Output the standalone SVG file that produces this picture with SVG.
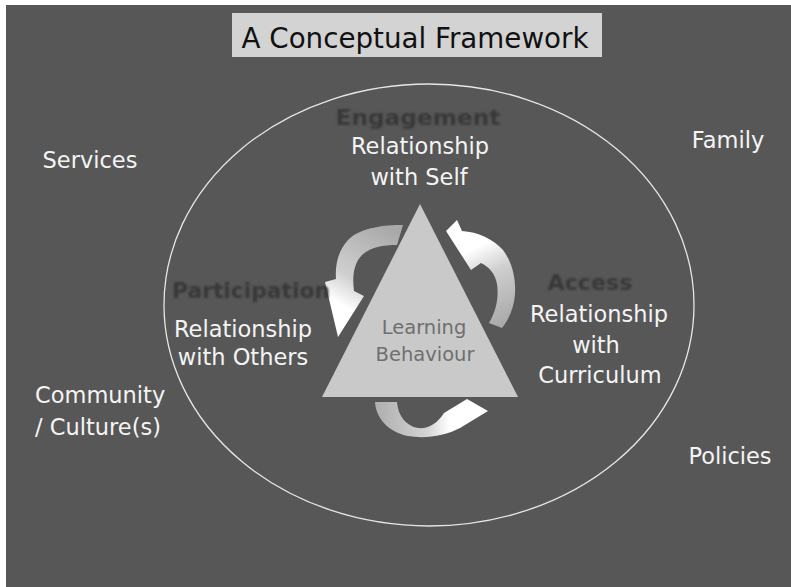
<svg xmlns="http://www.w3.org/2000/svg" width="791" height="587" viewBox="0 0 791 587">
  <style>
    .lbl { font-family: "DejaVu Sans", "Liberation Sans", sans-serif; font-size: 22.5px; fill: #f4f4f4; }
    .head { font-family: "DejaVu Sans", "Liberation Sans", sans-serif; font-size: 22px; font-weight: bold; fill: #383838; filter: url(#soft); }
    .core { font-family: "DejaVu Sans", "Liberation Sans", sans-serif; font-size: 19.5px; fill: #6f6f6f; }
    .title { font-family: "DejaVu Sans", "Liberation Sans", sans-serif; font-size: 29px; fill: #111; }
  </style>
  <defs>
    <filter id="soft" x="-10%" y="-30%" width="120%" height="160%">
      <feGaussianBlur stdDeviation="0.9"/>
    </filter>
    <linearGradient id="gLeft" gradientUnits="userSpaceOnUse" x1="395" y1="232" x2="340" y2="330">
      <stop offset="0" stop-color="#a9a9a9"/>
      <stop offset="0.55" stop-color="#d0d0d0"/>
      <stop offset="0.8" stop-color="#ffffff"/>
    </linearGradient>
    <linearGradient id="gRight" gradientUnits="userSpaceOnUse" x1="500" y1="326" x2="455" y2="232">
      <stop offset="0" stop-color="#a9a9a9"/>
      <stop offset="0.5" stop-color="#cfcfcf"/>
      <stop offset="0.78" stop-color="#ffffff"/>
    </linearGradient>
    <linearGradient id="gBottom" gradientUnits="userSpaceOnUse" x1="378" y1="410" x2="488" y2="410">
      <stop offset="0" stop-color="#b0b0b0"/>
      <stop offset="0.45" stop-color="#d4d4d4"/>
      <stop offset="0.65" stop-color="#ffffff"/>
    </linearGradient>
  </defs>

  <!-- page and slide background -->
  <rect x="0" y="0" width="791" height="587" fill="#ffffff"/>
  <rect x="6" y="5" width="785" height="582" fill="#575757"/>

  <!-- title banner -->
  <g id="title">
    <rect x="232" y="13" width="370" height="44" fill="#d3d3d3"/>
    <text class="title" x="415" y="48" text-anchor="middle" textLength="347" lengthAdjust="spacingAndGlyphs">A Conceptual Framework</text>
  </g>

  <!-- enclosing ring -->
  <g id="ring">
    <ellipse cx="429" cy="305" rx="265" ry="221" fill="none" stroke="#e6e6e6" stroke-width="1.3"/>
  </g>

  <!-- outer context labels -->
  <g id="services"><text class="lbl" x="90" y="168" text-anchor="middle">Services</text></g>
  <g id="family"><text class="lbl" x="728" y="148" text-anchor="middle">Family</text></g>
  <g id="community">
    <text class="lbl" x="35" y="403">Community</text>
    <text class="lbl" x="35" y="435">/ Culture(s)</text>
  </g>
  <g id="policies"><text class="lbl" x="730" y="464" text-anchor="middle">Policies</text></g>

  <!-- cycle arrows around the triangle -->
  <g id="connectors">
    <path id="arrow-left" fill="url(#gLeft)" d="M 403 225 C 385 225 361 227 348 240 C 338 251 335 265 336 279 L 325 282 L 338 337 L 364 296 L 354 291 C 352 276 354 263 362 255 C 371 247 383 245 397 245 Z"/>
    <path id="arrow-right" fill="url(#gRight)" d="M 446 231 L 457 220 L 462 231 C 478 232 493 239 503 250 C 512 262 516 278 515 294 C 514 308 509 319 502 328 L 489 323 C 496 311 499 298 497 284 C 495 273 489 267 481 263 L 471 270 Z"/>
    <path id="arrow-bottom" fill="url(#gBottom)" d="M 375 402 C 376 418 388 432 408 436 C 425 439 445 436 460 428 L 488 411 L 467 399 L 444 413 C 437 424 428 429 418 428 C 406 426 398 416 397 402 Z"/>
  </g>

  <!-- central triangle -->
  <g id="learning-behaviour">
    <polygon points="420,204 518,397 322,397" fill="#c9c9c9"/>
    <text class="core" x="424" y="334" text-anchor="middle">Learning</text>
    <text class="core" x="425" y="361" text-anchor="middle">Behaviour</text>
  </g>

  <!-- relationship labels -->
  <g id="engagement">
    <text class="head" x="418" y="125" text-anchor="middle" textLength="165" lengthAdjust="spacingAndGlyphs">Engagement</text>
    <text class="lbl" x="420" y="154" text-anchor="middle">Relationship</text>
    <text class="lbl" x="419" y="185" text-anchor="middle">with Self</text>
  </g>
  <g id="participation">
    <text class="head" x="251" y="298" text-anchor="middle" textLength="158" lengthAdjust="spacingAndGlyphs">Participation</text>
    <text class="lbl" x="243" y="337" text-anchor="middle">Relationship</text>
    <text class="lbl" x="243" y="365" text-anchor="middle">with Others</text>
  </g>
  <g id="access">
    <text class="head" x="590" y="290" text-anchor="middle" textLength="85" lengthAdjust="spacingAndGlyphs">Access</text>
    <text class="lbl" x="599" y="322" text-anchor="middle">Relationship</text>
    <text class="lbl" x="596" y="353" text-anchor="middle">with</text>
    <text class="lbl" x="600" y="383" text-anchor="middle">Curriculum</text>
  </g>
</svg>
